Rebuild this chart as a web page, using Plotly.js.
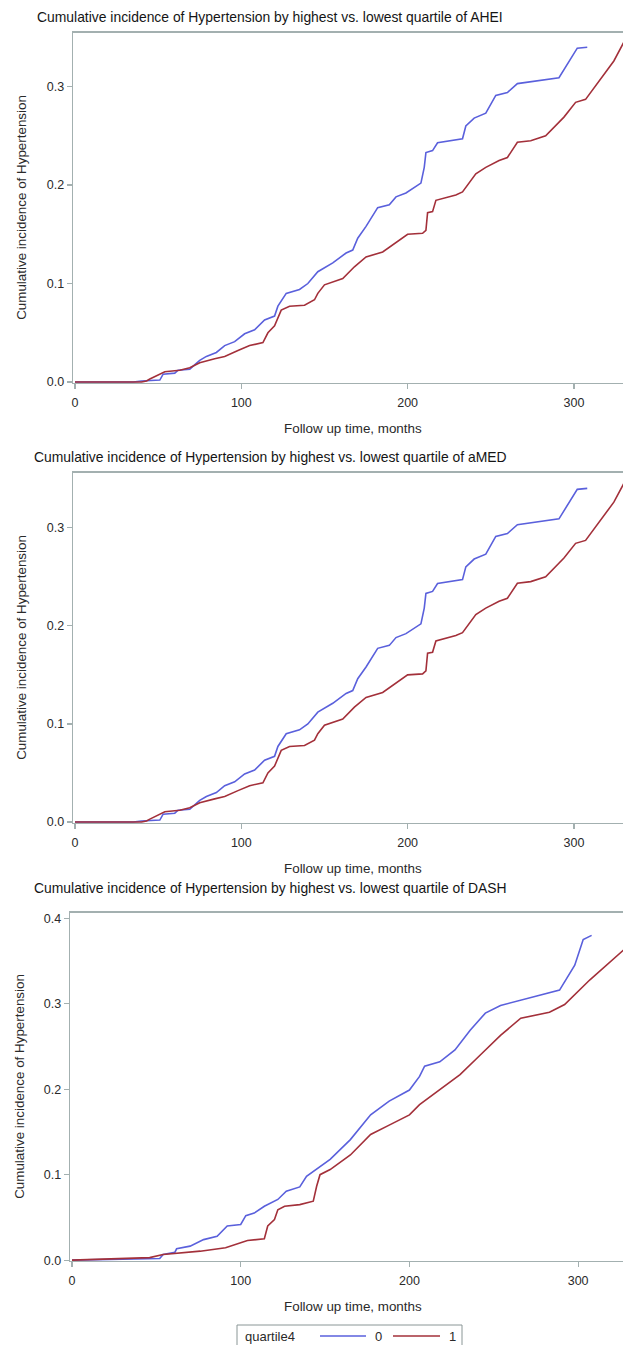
<!DOCTYPE html>
<html>
<head>
<meta charset="utf-8">
<script src="https://cdn.plot.ly/plotly-3.0.1.min.js"></script>
<style>html,body{margin:0;padding:0;background:#fff;overflow:hidden}</style>
</head>
<body>
<div id="chart" style="width:623px;height:1345px"></div>
<script>
// ---- Data ----
var panelTitles = [
  "Cumulative incidence of Hypertension by highest vs. lowest quartile of AHEI",
  "Cumulative incidence of Hypertension by highest vs. lowest quartile of aMED",
  "Cumulative incidence of Hypertension by highest vs. lowest quartile of DASH"
];
var xTitle = "Follow up time, months";
var yTitle = "Cumulative incidence of Hypertension";
var legendTitle = "quartile4";
var groupNames = ["0", "1"];

// AHEI
var aheiTime0 = [0,35,40,51,53,60,62,69,75,79,85,90,96,102,108,114,120,122,127,135,140,146,155,163,167,170,175,182,189,193,199,208,210,211,215,218,233,235,240,247,253,260,266,280,291,302,308];
var aheiInc0  = [0,0,0.001,0.002,0.008,0.009,0.012,0.013,0.022,0.026,0.030,0.037,0.041,0.049,0.053,0.063,0.067,0.077,0.090,0.094,0.100,0.112,0.121,0.131,0.134,0.146,0.158,0.177,0.180,0.188,0.192,0.202,0.218,0.233,0.235,0.243,0.247,0.260,0.268,0.273,0.291,0.294,0.303,0.306,0.309,0.339,0.340];
var aheiTime1 = [0,40,43,45,54,63,69,75,84,90,98,105,113,116,120,124,129,138,144,146,150,161,168,175,185,193,200,209,211,212,215,217,229,233,241,247,255,260,266,274,283,294,301,307,324,330];
var aheiInc1  = [0,0,0.001,0.003,0.0105,0.012,0.0145,0.0196,0.0236,0.026,0.032,0.037,0.040,0.050,0.057,0.073,0.077,0.078,0.0835,0.090,0.0987,0.105,0.117,0.127,0.132,0.142,0.150,0.151,0.154,0.172,0.173,0.1845,0.190,0.193,0.2115,0.218,0.225,0.228,0.2434,0.245,0.250,0.269,0.284,0.287,0.326,0.345];

// aMED
var amedTime0 = [0,35,40,51,53,60,62,69,75,79,85,90,96,102,108,114,120,122,127,135,140,146,155,163,167,170,175,182,189,193,199,208,210,211,215,218,233,235,240,247,253,260,266,280,291,302,308];
var amedInc0  = [0,0,0.001,0.002,0.008,0.009,0.012,0.013,0.022,0.026,0.030,0.037,0.041,0.049,0.053,0.063,0.067,0.077,0.090,0.094,0.100,0.112,0.121,0.131,0.134,0.146,0.158,0.177,0.180,0.188,0.192,0.202,0.218,0.233,0.235,0.243,0.247,0.260,0.268,0.273,0.291,0.294,0.303,0.306,0.309,0.339,0.340];
var amedTime1 = [0,40,43,45,54,63,69,75,84,90,98,105,113,116,120,124,129,138,144,146,150,161,168,175,185,193,200,209,211,212,215,217,229,233,241,247,255,260,266,274,283,294,301,307,324,330];
var amedInc1  = [0,0,0.001,0.003,0.0105,0.012,0.0145,0.0196,0.0236,0.026,0.032,0.037,0.040,0.050,0.057,0.073,0.077,0.078,0.0835,0.090,0.0987,0.105,0.117,0.127,0.132,0.142,0.150,0.151,0.154,0.172,0.173,0.1845,0.190,0.193,0.2115,0.218,0.225,0.228,0.2434,0.245,0.250,0.269,0.284,0.287,0.326,0.345];

// DASH
var dashTime0 = [0,40,46,52,54,61,62,70,78,86,92,100,103,108,114,122,127,135,139,146,153,165,177,188,200,206,209,218,227,236,245,254,271,289,298,303,308];
var dashInc0  = [0,0.001,0.002,0.002,0.0067,0.0093,0.0133,0.0164,0.024,0.028,0.040,0.0417,0.052,0.055,0.063,0.071,0.0806,0.0857,0.098,0.108,0.118,0.141,0.170,0.186,0.199,0.215,0.227,0.232,0.246,0.269,0.289,0.298,0.307,0.316,0.345,0.375,0.380];
var dashTime1 = [0,15,40,46,54,64,76,91,100,104,114,116,120,122,126,135,143,145,147,153,165,177,188,200,206,218,230,242,254,266,283,292,307,327];
var dashInc1  = [0,0.001,0.002,0.003,0.0067,0.0086,0.0105,0.0145,0.020,0.023,0.025,0.040,0.0475,0.059,0.063,0.065,0.069,0.0865,0.100,0.106,0.123,0.147,0.158,0.170,0.182,0.199,0.217,0.240,0.263,0.283,0.290,0.299,0.328,0.363];

// ---- Styling ----
var W = 623, H = 1345;
var seriesColors = ["#5a60dc", "#a3303a"];
var axisColor = "#a3b0b0";
var txtColor = "#2a2a2a";
var fontFam = "Liberation Sans, Arial, sans-serif";

function py(p){ return 1 - p / H; }   // pixel -> paper y
function px(p){ return p / W; }       // pixel -> paper x

var panels = [
  {t0:aheiTime0, v0:aheiInc0, t1:aheiTime1, v1:aheiInc1, top:32.7, bot:383, left:73, xr:[-1.2,329.5], yr:[-0.001,0.3547], ytick:[0,0.1,0.2,0.3], titleY:17, xtY:428},
  {t0:amedTime0, v0:amedInc0, t1:amedTime1, v1:amedInc1, top:472.7, bot:823, left:73, xr:[-1.2,329.5], yr:[-0.001,0.356], ytick:[0,0.1,0.2,0.3], titleY:457, xtY:868},
  {t0:dashTime0, v0:dashInc0, t1:dashTime1, v1:dashInc1, top:912.7, bot:1261, left:70, xr:[-1.2,326.6], yr:[-0.001,0.4065], ytick:[0,0.1,0.2,0.3,0.4], titleY:888, xtY:1306}
];

var traces = [];
var layout = {
  width: W, height: H,
  margin: {l:0, r:0, t:0, b:0, autoexpand:false},
  paper_bgcolor: "#fff", plot_bgcolor: "#fff",
  font: {family: fontFam, color: txtColor, size: 12},
  showlegend: false,
  annotations: [],
  shapes: []
};

panels.forEach(function(p, i){
  var n = i === 0 ? "" : String(i + 1);
  var xa = "x" + n, ya = "y" + n;
  traces.push({x: p.t0, y: p.v0, type: "scatter", mode: "lines", xaxis: xa, yaxis: ya,
    name: groupNames[0], line: {color: seriesColors[0], width: 1.6}});
  traces.push({x: p.t1, y: p.v1, type: "scatter", mode: "lines", xaxis: xa, yaxis: ya,
    name: groupNames[1], line: {color: seriesColors[1], width: 1.6}});

  layout["xaxis" + n] = {
    domain: [px(p.left), 1], range: p.xr, anchor: ya,
    showline: true, linecolor: axisColor, linewidth: 1.3, mirror: true,
    ticks: "outside", ticklen: 5, tickcolor: axisColor, tickwidth: 1.2,
    tickvals: [0,100,200,300], ticktext: ["0","100","200","300"],
    tickfont: {size: 12.5, color: txtColor}, ticklabelstandoff: 3,
    showgrid: false, zeroline: false, fixedrange: true
  };
  layout["yaxis" + n] = {
    domain: [py(p.bot), py(p.top)], range: p.yr, anchor: xa,
    showline: true, linecolor: axisColor, linewidth: 1.3, mirror: false,
    ticks: "outside", ticklen: 5, tickcolor: axisColor, tickwidth: 1.2,
    tickvals: p.ytick, tickformat: ".1f",
    tickfont: {size: 12.5, color: txtColor},
    showgrid: false, zeroline: false, fixedrange: true
  };

  layout.annotations.push({text: panelTitles[i], xref: "paper", yref: "paper",
    x: px(270), y: py(p.titleY), xanchor: "center", yanchor: "middle", showarrow: false,
    font: {size: 13.9, color: "#151515"}});
  layout.annotations.push({text: xTitle, xref: "paper", yref: "paper",
    x: px(353), y: py(p.xtY), xanchor: "center", yanchor: "middle", showarrow: false,
    font: {size: 13.4, color: txtColor}});
  layout.annotations.push({text: yTitle, xref: "paper", yref: "paper", textangle: -90,
    x: px(i === 2 ? 20 : 22), y: py((p.top + p.bot) / 2), xanchor: "center", yanchor: "middle", showarrow: false,
    font: {size: 13.4, color: txtColor}});
});

// ---- Legend (drawn as a boxed key at the bottom, cut by the page edge like the reference) ----
var legY = 1336;
layout.shapes.push({type: "rect", xref: "paper", yref: "paper",
  x0: px(237), x1: px(462), y0: py(1325), y1: py(1360),
  line: {color: "#8a9696", width: 1}, fillcolor: "rgba(0,0,0,0)"});
layout.annotations.push({text: legendTitle, xref: "paper", yref: "paper",
  x: px(243), y: py(legY), xanchor: "left", yanchor: "middle", showarrow: false,
  font: {size: 13, color: txtColor}});
var legItems = [{x0:320, x1:366, tx:378}, {x0:393, x1:440, tx:452}];
legItems.forEach(function(it, k){
  layout.shapes.push({type: "line", xref: "paper", yref: "paper",
    x0: px(it.x0), x1: px(it.x1), y0: py(legY), y1: py(legY),
    line: {color: seriesColors[k], width: 1.6}});
  layout.annotations.push({text: groupNames[k], xref: "paper", yref: "paper",
    x: px(it.tx), y: py(legY), xanchor: "center", yanchor: "middle", showarrow: false,
    font: {size: 13, color: txtColor}});
});

Plotly.newPlot("chart", traces, layout, {displayModeBar: false, staticPlot: true});
</script>
</body>
</html>
